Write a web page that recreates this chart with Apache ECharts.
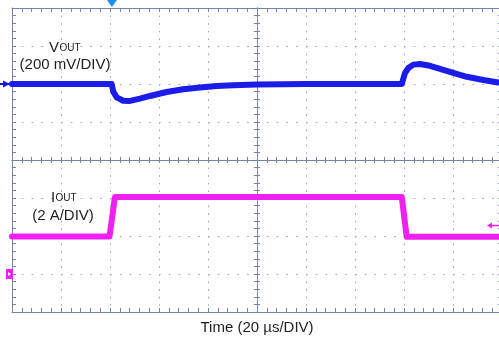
<!DOCTYPE html>
<html><head><meta charset="utf-8">
<script src="https://cdn.jsdelivr.net/npm/echarts@6/dist/echarts.min.js"></script>
<style>html,body{margin:0;padding:0;background:#fff}#c{width:499px;height:338px}</style>
</head><body><div id="c"></div>
<script>
// ---- data (time in µs, 20 µs/div; VOUT deviation in mV, 200 mV/div; IOUT in A, 2 A/div)
const vTime  = [0, 40.7, 41.3, 42.7, 45.4, 48.2, 52.2, 56.3, 63.1, 69.9, 76.7, 83.5, 90.3, 100, 120, 159.1, 160.4, 161.8, 163.8, 166.5, 170.6, 174.7, 180.1, 185.6, 192.4, 198.5, 200];
const vOutMv = [0, 0, -39, -70, -88, -89, -77, -63, -42, -28, -18, -10, -7, -3, 0, 0, 58, 84, 102, 105, 96, 80, 58, 38, 21, 8, 6];
const iTime  = [0, 39.8, 42.0, 159.1, 161.1, 200];
const iOutA  = [1.97, 1.97, 4.05, 4.05, 1.96, 1.96];
const triggerTimeUs = 40.8;
const triggerLevelA = 2.55;
const xLabel = 'Time (20 µs/DIV)';
const vName = 'V', vSub = 'OUT', vScale = '(200 mV/DIV)';
const iName = 'I', iSub = 'OUT', iScale = '(2 A/DIV)';

const AX = '#7682a6', DOT = '#9aa2b6', FONT = 'Liberation Sans, Arial, sans-serif', TXT = '#1e1e1e';
const VCOL = '#1c1cea', ICOL = '#f020f0';

function common(len) {
  return {
    axisLine: {show: true, onZero: false, lineStyle: {color: AX, width: 1}},
    axisTick: {show: true, inside: true, length: len, lineStyle: {color: AX, width: 1}},
    minorTick: {show: true, splitNumber: 5, length: len, lineStyle: {color: AX, width: 1}},
    axisLabel: {show: true, formatter: function () { return ''; }, color: 'rgba(0,0,0,0)'}
  };
}
function xAx(pos, offset, len, split, extra) {
  return Object.assign({
    type: 'value', min: 0, max: 200, interval: 20, position: pos, offset: offset,
    splitLine: {show: split, lineStyle: {color: DOT, width: 1, type: [1.6, 6.0]}}
  }, common(len), extra || {});
}
function yAx(pos, offset, len, split) {
  return Object.assign({
    type: 'value', min: -4, max: 4, interval: 1, position: pos, offset: offset,
    splitLine: {show: split, lineStyle: {color: DOT, width: 1, type: [1.6, 8.2]}}
  }, common(len));
}

const chart = echarts.init(document.getElementById('c'), null, {renderer: 'canvas'});
chart.setOption({
  animation: false,
  backgroundColor: '#fff',
  grid: {left: 12, right: -3, top: 8, bottom: 26, containLabel: false, outerBoundsMode: 'none'},
  xAxis: [
    xAx('bottom', 0, 4, true, {name: xLabel, nameLocation: 'middle', nameGap: 8, nameMoveOverlap: false,
      nameTextStyle: {fontSize: 15, color: TXT, fontFamily: FONT}}),
    xAx('top', 0, 4, false),
    xAx('bottom', -152, 3, false),
    xAx('top', -152, 3, false)
  ],
  yAxis: [
    yAx('left', 0, 4, true),
    yAx('right', 0, 4, false),
    yAx('left', -245, 3, false),
    yAx('right', -245, 3, false),
    {type: 'value', show: false, min: -1200, max: 400},
    {type: 'value', show: false, min: -2, max: 14}
  ],
  series: [
    {type: 'line', name: 'VOUT', xAxisIndex: 0, yAxisIndex: 4, showSymbol: false, z: 5,
     data: vTime.map((t, i) => [t, vOutMv[i]]),
     lineStyle: {color: VCOL, width: 6, join: 'round', cap: 'round'}},
    {type: 'line', name: 'IOUT', xAxisIndex: 0, yAxisIndex: 5, showSymbol: false, z: 5,
     data: iTime.map((t, i) => [t, iOutA[i]]),
     lineStyle: {color: ICOL, width: 6, join: 'round', cap: 'round'}}
  ]
});

const pTrig = chart.convertToPixel({xAxisIndex: 0, yAxisIndex: 0}, [triggerTimeUs, 4]);
const pV0 = chart.convertToPixel({xAxisIndex: 0, yAxisIndex: 4}, [0, 0]);
const pI0 = chart.convertToPixel({xAxisIndex: 0, yAxisIndex: 5}, [0, 0]);
const pIt = chart.convertToPixel({xAxisIndex: 0, yAxisIndex: 5}, [200, triggerLevelA]);
const tx = (text, x, y, size, align) => ({type: 'text', x: x, y: y, z: 20,
  style: {text: text, font: size + 'px ' + FONT, fill: TXT, align: align || 'left', verticalAlign: 'middle'}});

chart.setOption({
  graphic: [
    {type: 'polygon', z: 20, shape: {points: [[pTrig[0] - 5, 0], [pTrig[0] + 5, 0], [pTrig[0], pTrig[1] - 1]]}, style: {fill: '#1e8ff0'}},
    {type: 'line', z: 20, shape: {x1: 0, y1: pV0[1], x2: pV0[0], y2: pV0[1]}, style: {stroke: VCOL, lineWidth: 2}},
    {type: 'polygon', z: 20, shape: {points: [[3, pV0[1] - 3.5], [3, pV0[1] + 3.5], [10, pV0[1]]]}, style: {fill: VCOL}},
    {type: 'rect', z: 20, shape: {x: 6, y: pI0[1] - 5, width: 7, height: 10}, style: {fill: ICOL}},
    {type: 'polygon', z: 21, shape: {points: [[8, pI0[1] - 2], [8, pI0[1] + 2], [11, pI0[1]]]}, style: {fill: '#fff'}},
    {type: 'line', z: 20, shape: {x1: 490, y1: pIt[1], x2: 499, y2: pIt[1]}, style: {stroke: ICOL, lineWidth: 1.5}},
    {type: 'polygon', z: 20, shape: {points: [[487, pIt[1]], [492, pIt[1] - 3], [492, pIt[1] + 3]]}, style: {fill: ICOL}},
    tx(vName, 49, 47.5, 15),
    tx(vSub, 59.5, 48.5, 10),
    tx(vScale, 65, 65, 15, 'center'),
    tx(iName, 51, 197.5, 15),
    tx(iSub, 55.5, 198.5, 10),
    tx(iScale, 63, 215.5, 15, 'center')
  ]
});
</script></body></html>
